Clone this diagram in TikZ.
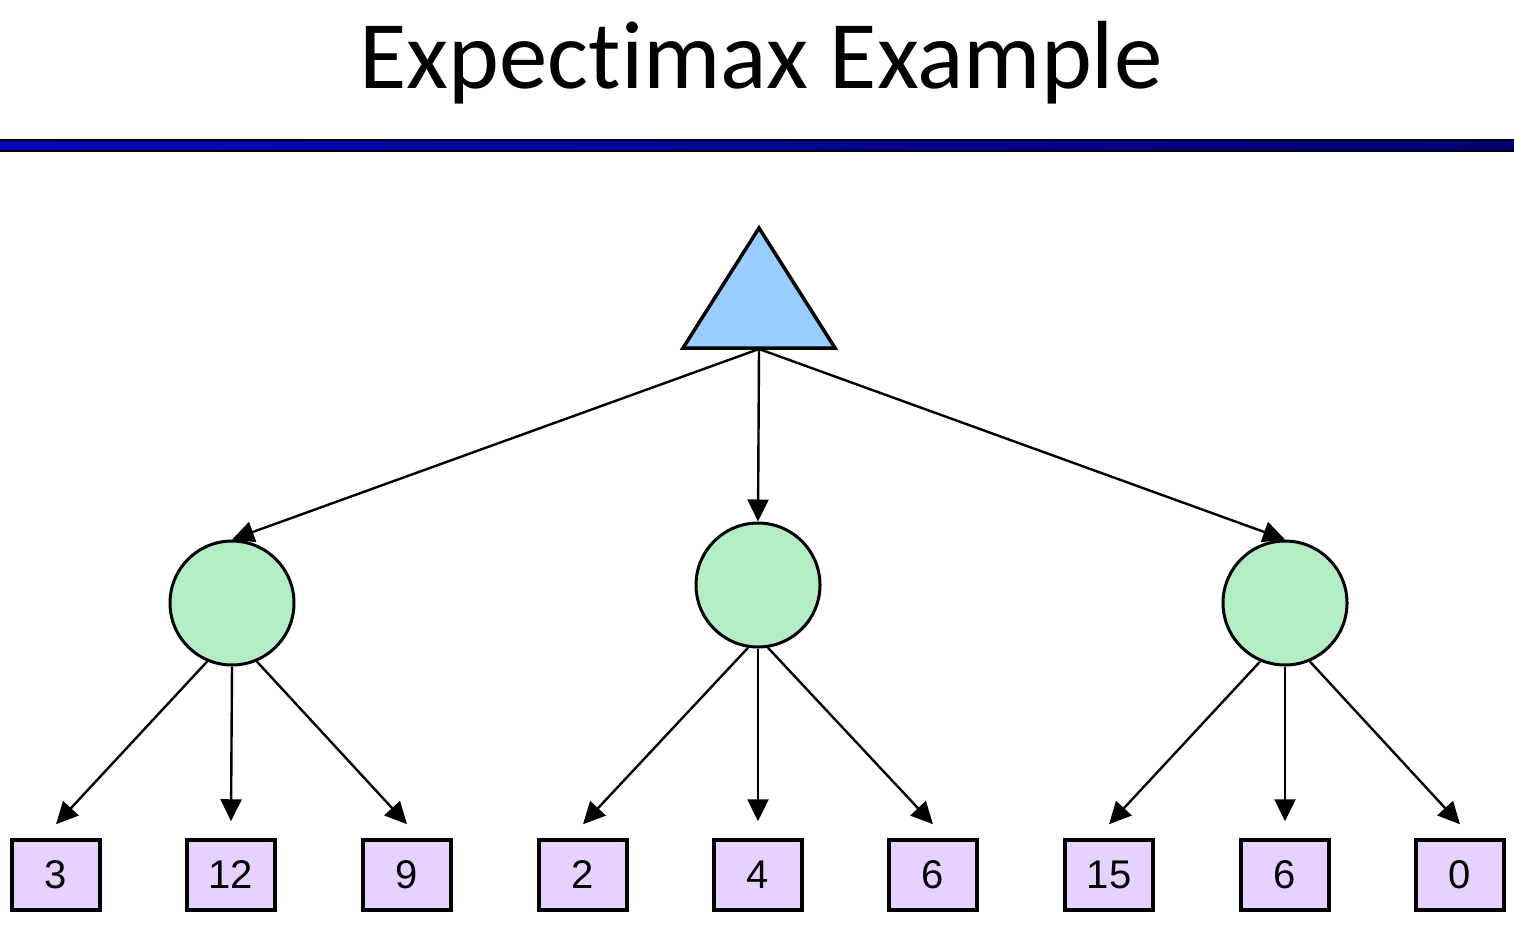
\documentclass[tikz,border=0pt]{standalone}
\usepackage{fontspec}
\setmainfont[Ligatures={NoCommon}]{Carlito}
\newfontfamily\arialf{Liberation Sans}
\usetikzlibrary{arrows.meta,calc}
\definecolor{triblue}{HTML}{99CCFF}
\definecolor{chancegreen}{HTML}{B3EDC4}
\definecolor{leafpurple}{HTML}{E6D1FF}
\pgfdeclarehorizontalshading{barshade}{100bp}{rgb(0bp)=(0.04,0.04,0.80); rgb(26bp)=(0.03,0.03,0.72); rgb(79bp)=(0,0,0.43); rgb(100bp)=(0,0,0.2)}
\begin{document}
\begin{tikzpicture}[x=0.5pt,y=-0.5pt,
  chance/.style={circle, draw=black, line width=1.5pt, fill=chancegreen, minimum size=62pt, inner sep=0pt},
  leaf/.style={rectangle, draw=black, line width=1.75pt, fill=leafpurple, minimum width=44pt, minimum height=35pt, inner sep=0pt, font=\arialf\fontsize{20}{24}\selectfont},
  arr/.style={-{Triangle[length=11pt,width=10.5pt]}, line width=1.2pt}]
\useasboundingbox (0,0) rectangle (1514,932);
\node[font=\fontsize{48.4}{58}\selectfont, anchor=base, inner sep=0pt] (title) at (761,88) {Expectimax Example};
\shade[shading=barshade, draw=black, line width=1pt] (-5,140) rectangle (1519,151);
% max node
\draw[fill=triblue, line width=1.75pt, line join=miter] (759,228) -- (835,348) -- (683,348) -- cycle;
\coordinate (root) at (759,349);
% chance nodes
\node[chance] (c1) at (232,603) {};
\node[chance] (c2) at (758,585) {};
\node[chance] (c3) at (1285,603) {};
% leaves
\node[leaf] (b1) at (56,875) {3};
\node[leaf] (b2) at (231,875) {12};
\node[leaf] (b3) at (407,875) {9};
\node[leaf] (b4) at (583,875) {2};
\node[leaf] (b5) at (758,875) {4};
\node[leaf] (b6) at (933,875) {6};
\node[leaf] (b7) at (1109,875) {15};
\node[leaf] (b8) at (1285,875) {6};
\node[leaf] (b9) at (1460,875) {0};
% top arrows
\draw[arr] (root) -- (c1.north);
\draw[arr] (root) -- (c2.north);
\draw[arr] (root) -- (c3.north);
% lower arrows
\draw[arr] (c1.-113) -- ($(b1.north)+(0,-14)$);
\draw[arr] (c1.-90) -- ($(b2.north)+(0,-17)$);
\draw[arr] (c1.-67) -- ($(b3.north)+(0,-14)$);
\draw[arr] (c2.-99) -- ($(b4.north)+(0,-14)$);
\draw[arr] (c2.-90) -- ($(b5.north)+(0,-17)$);
\draw[arr] (c2.-81) -- ($(b6.north)+(0,-14)$);
\draw[arr] (c3.-113) -- ($(b7.north)+(0,-14)$);
\draw[arr] (c3.-90) -- ($(b8.north)+(0,-17)$);
\draw[arr] (c3.-67) -- ($(b9.north)+(0,-14)$);
\end{tikzpicture}
\end{document}
